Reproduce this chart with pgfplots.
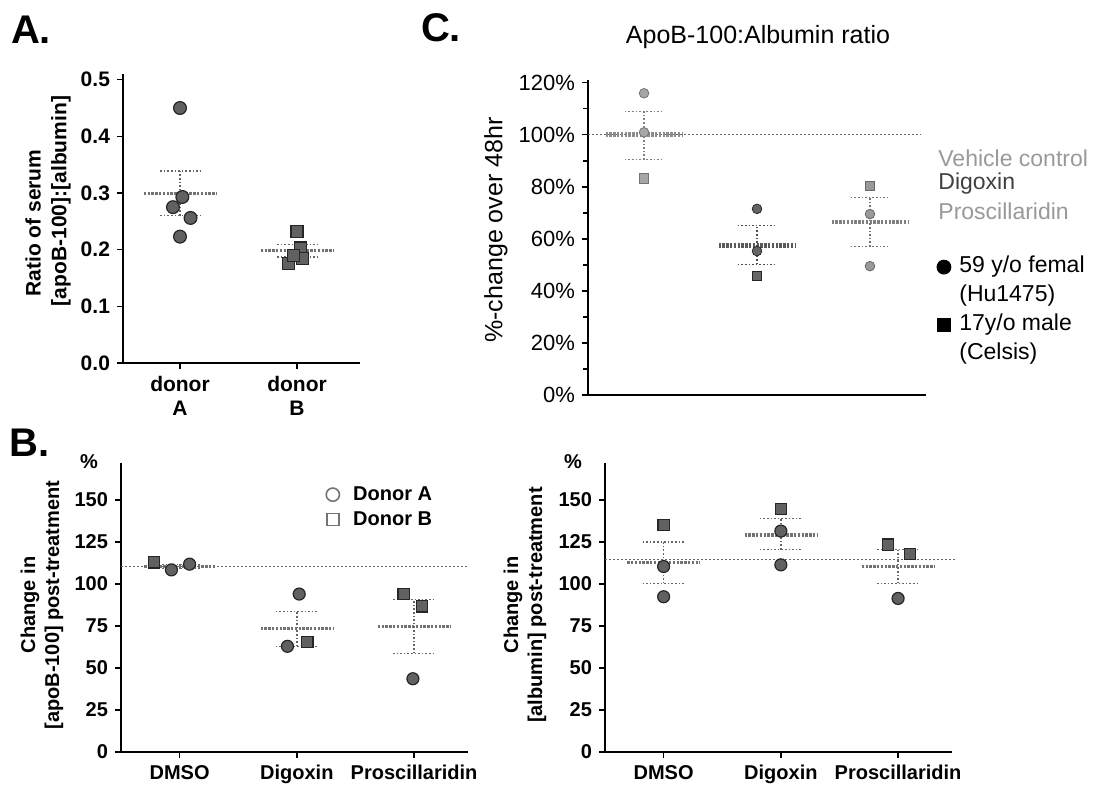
\documentclass[border=0pt]{standalone}
\usepackage{pgfplots}
\pgfplotsset{compat=1.18}
\usepackage{fontspec}
\setmainfont{Liberation Sans}

\pgfplotsset{
  prism/.style={
    scale only axis, clip=false, anchor=south west,
    axis lines=left,
    axis line style={-, line width=1.4pt, black},
    tick align=outside,
    major tick length=3pt,
    minor tick length=2.5pt,
    every tick/.style={black, line width=0.8pt},
    unbounded coords=jump,
  },
  meanline/.style={black!55, line width=1.6pt, dash pattern=on 1.2pt off 0.7pt, forget plot},
  refline/.style={black!60, line width=0.7pt, dash pattern=on 0.8pt off 1.2pt, forget plot},
  semline/.style={black!60, line width=0.7pt, dash pattern=on 0.8pt off 1pt, forget plot, mark=none},
  dk/.style={only marks, mark size=#1, mark options={draw=black!85, fill=black!62, line width=0.6pt}, forget plot},
  legimgC/.style={legend image code/.code={\draw[##1] plot coordinates {(0pt,0pt)}; \path (-3.5pt,0pt) (6.5pt,0pt);}},
  legimgB/.style={legend image code/.code={\draw[##1] plot coordinates {(0pt,0pt)}; \path (-3.5pt,0pt) (9pt,0pt);}},
}

\begin{document}
\begin{tikzpicture}
\useasboundingbox (0,0) rectangle (551pt,-398.5pt);

% ---------------- Panel A ----------------
\begin{axis}[prism, at={(61.5pt,-181.5pt)}, width=118.5pt, height=144.5pt,
  xmin=-0.487, xmax=1.538, ymin=0, ymax=0.51,
  ytick={0,0.1,0.2,0.3,0.4,0.5}, yticklabels={0.0,0.1,0.2,0.3,0.4,0.5},
  xtick={0,1}, xticklabels={{donor\\A},{donor\\B}},
  xticklabel style={align=center, font=\bfseries\fontsize{10.5}{12}\selectfont},
  yticklabel style={font=\bfseries\fontsize{10.5}{12}\selectfont}]
\addplot[meanline] coordinates {(-0.31,0.2994) (0.31,0.2994)};
\addplot[meanline] coordinates {(0.69,0.198) (1.31,0.198)};
\addplot[semline] coordinates {(0,0.26) (0,0.3388) (nan,nan) (-0.17,0.3388) (0.17,0.3388) (nan,nan) (-0.17,0.26) (0.17,0.26)
  (nan,nan) (1,0.187) (1,0.209) (nan,nan) (0.83,0.209) (1.17,0.209) (nan,nan) (0.83,0.187) (1.17,0.187)};
\addplot[dk=3.2pt, mark=*] coordinates {(0,0.45) (0.02,0.293) (-0.06,0.275) (0.09,0.256) (0,0.223)};
\addplot[dk=3pt, mark=square*] coordinates {(1,0.232) (1.03,0.203) (1.05,0.185) (0.93,0.175) (0.97,0.19)};
\end{axis}

% ---------------- Panel C ----------------
\begin{axis}[prism, at={(294pt,-197.5pt)}, width=169pt, height=157.5pt,
  xmin=-0.496, xmax=2.496, ymin=0, ymax=121,
  xtick=\empty,
  ytick={0,20,40,60,80,100,120},
  yticklabels={0\%,20\%,40\%,60\%,80\%,100\%,120\%},
  minor ytick={10,30,50,70,90,110},
  yticklabel style={font=\fontsize{11}{13}\selectfont},
  legend style={at={(rel axis cs:1.03,0.447)}, anchor=north west, draw=none, fill=none,
    font=\fontsize{11.5}{13}\selectfont, row sep=2pt, inner sep=0pt,
    nodes={inner sep=1pt, text height=8pt, text depth=2.5pt}},
  legend cell align=left]
\addplot[refline] coordinates {(-0.496,100) (2.45,100)};
% vehicle
\addplot[meanline, black!45, line width=2.2pt] coordinates {(-0.34,100) (0.34,100)};
\addplot[semline, black!50] coordinates {(0,90.4) (0,109) (nan,nan) (-0.17,109) (0.17,109) (nan,nan) (-0.17,90.4) (0.17,90.4)};
\addplot[only marks, mark=*, mark size=2.4pt, mark options={draw=black!55, fill=black!35}, forget plot] coordinates {(0,115.9) (0,100.9)};
\addplot[only marks, mark=square*, mark size=2.3pt, mark options={draw=black!55, fill=black!35}, forget plot] coordinates {(0,83.2)};
% digoxin
\addplot[meanline, black!65, line width=2.2pt] coordinates {(0.66,57.5) (1.34,57.5)};
\addplot[semline, black!70] coordinates {(1,50.2) (1,65.1) (nan,nan) (0.83,65.1) (1.17,65.1) (nan,nan) (0.83,50.2) (1.17,50.2)};
\addplot[only marks, mark=*, mark size=2.4pt, mark options={draw=black!85, fill=black!60}, forget plot] coordinates {(1,71.5) (1,55.3)};
\addplot[only marks, mark=square*, mark size=2.3pt, mark options={draw=black!85, fill=black!60}, forget plot] coordinates {(1,45.7)};
% proscillaridin
\addplot[meanline, black!50, line width=2.2pt] coordinates {(1.66,66.4) (2.34,66.4)};
\addplot[semline, black!55] coordinates {(2,57) (2,75.8) (nan,nan) (1.83,75.8) (2.17,75.8) (nan,nan) (1.83,57) (2.17,57)};
\addplot[only marks, mark=square*, mark size=2.3pt, mark options={draw=black!60, fill=black!40}, forget plot] coordinates {(2,80.2)};
\addplot[only marks, mark=*, mark size=2.4pt, mark options={draw=black!60, fill=black!40}, forget plot] coordinates {(2,69.5) (2,49.5)};
% legend
\addlegendimage{only marks, mark=*, mark size=3.5pt, black, legimgC}
\addlegendentry{59 y/o femal}
\addlegendimage{empty legend}
\addlegendentry{(Hu1475)}
\addlegendimage{only marks, mark=square*, mark size=3.3pt, black, legimgC}
\addlegendentry{17y/o male}
\addlegendimage{empty legend}
\addlegendentry{(Celsis)}
\end{axis}

% ---------------- Panel B left ----------------
\begin{axis}[prism, at={(60.5pt,-376pt)}, width=173.5pt, height=144.5pt,
  xmin=-0.5, xmax=2.46, ymin=0, ymax=172,
  ytick={0,25,50,75,100,125,150}, yticklabels={0,25,50,75,100,125,150},
  xtick={0,1,2}, xticklabels={DMSO,Digoxin,Proscillaridin},
  ticklabel style={font=\bfseries\fontsize{10}{12}\selectfont},
  legend style={at={(rel axis cs:0.588,0.93)}, anchor=north west, draw=none, fill=none,
    font=\bfseries\fontsize{10}{12}\selectfont, row sep=1.5pt, inner sep=0pt,
    nodes={inner sep=1pt, text height=7.5pt, text depth=1.5pt}},
  legend cell align=left]
\addplot[refline] coordinates {(-0.5,110.4) (2.46,110.4)};
\addplot[meanline] coordinates {(-0.3,110.4) (0.3,110.4)};
\addplot[meanline] coordinates {(0.69,73.3) (1.31,73.3)};
\addplot[meanline] coordinates {(1.69,74.7) (2.31,74.7)};
\addplot[semline] coordinates {(0,109.1) (0,111.7) (nan,nan) (-0.18,111.7) (0.18,111.7) (nan,nan) (-0.18,109.1) (0.18,109.1)
  (nan,nan) (1,62.9) (1,83.7) (nan,nan) (0.82,83.7) (1.18,83.7) (nan,nan) (0.82,62.9) (1.18,62.9)
  (nan,nan) (2,58.8) (2,90.6) (nan,nan) (1.82,90.6) (2.18,90.6) (nan,nan) (1.82,58.8) (2.18,58.8)};
\addplot[dk=3pt, mark=*] coordinates {(-0.07,108.4) (0.085,111.8) (1.02,94) (0.92,62.9) (1.99,43.6)};
\addplot[dk=2.8pt, mark=square*] coordinates {(-0.22,112.9) (1.09,65.3) (1.91,94.2) (2.065,86.7)};
\addlegendimage{only marks, mark=o, mark size=3.3pt, mark options={black!55, line width=0.8pt}, legimgB}
\addlegendentry{Donor A}
\addlegendimage{only marks, mark=square, mark size=3pt, mark options={black!55, line width=0.8pt}, legimgB}
\addlegendentry{Donor B}
\end{axis}

% ---------------- Panel B right ----------------
\begin{axis}[prism, at={(302.5pt,-376pt)}, width=173.5pt, height=144.5pt,
  xmin=-0.5, xmax=2.46, ymin=0, ymax=172,
  ytick={0,25,50,75,100,125,150}, yticklabels={0,25,50,75,100,125,150},
  xtick={0,1,2}, xticklabels={DMSO,Digoxin,Proscillaridin},
  ticklabel style={font=\bfseries\fontsize{10}{12}\selectfont}]
\addplot[refline] coordinates {(-0.5,114.5) (2.5,114.5)};
\addplot[meanline] coordinates {(-0.31,112.7) (0.31,112.7)};
\addplot[meanline] coordinates {(0.69,129.2) (1.31,129.2)};
\addplot[meanline] coordinates {(1.69,110.4) (2.31,110.4)};
\addplot[semline] coordinates {(0,100.3) (0,125.1) (nan,nan) (-0.18,125.1) (0.18,125.1) (nan,nan) (-0.18,100.3) (0.18,100.3)
  (nan,nan) (1,120.5) (1,139) (nan,nan) (0.82,139) (1.18,139) (nan,nan) (0.82,120.5) (1.18,120.5)
  (nan,nan) (2,100.4) (2,120.4) (nan,nan) (1.82,120.4) (2.18,120.4) (nan,nan) (1.82,100.4) (2.18,100.4)};
\addplot[dk=3pt, mark=*] coordinates {(0,110.4) (0,92.4) (1,131.5) (1,111.4) (2,91.4)};
\addplot[dk=2.8pt, mark=square*] coordinates {(0,135.1) (1,144.6) (1.915,123.5) (2.1,117.9)};
\end{axis}

% ---------------- texts ----------------
\begin{scope}[x=0.5pt, y=-0.5pt]
\node[font=\bfseries\fontsize{20}{22}\selectfont] at (31,30) {A.};
\node[font=\bfseries\fontsize{20}{22}\selectfont] at (30,443) {B.};
\node[font=\bfseries\fontsize{20}{22}\selectfont] at (441,28) {C.};
\node[font=\bfseries\fontsize{10.5}{12}\selectfont, rotate=90] at (33,223) {Ratio of serum};
\node[font=\bfseries\fontsize{10.5}{12}\selectfont, rotate=90] at (61,201) {[apoB-100]:[albumin]};
\node[font=\bfseries\fontsize{10}{12}\selectfont, rotate=90, align=center] at (42,605) {Change in\\{}[apoB-100] post-treatment};
\node[font=\bfseries\fontsize{10}{12}\selectfont, rotate=90, align=center] at (525,605) {Change in\\{}[albumin] post-treatment};
\node[font=\bfseries\fontsize{10}{12}\selectfont] at (89,462) {\%};
\node[font=\bfseries\fontsize{10}{12}\selectfont] at (573,462) {\%};
\node[font=\fontsize{12.5}{14}\selectfont] at (758,37) {ApoB-100:Albumin ratio};
\node[font=\fontsize{12.5}{14}\selectfont, rotate=90] at (496,230) {\%-change over 48hr};
\node[font=\fontsize{11.5}{13}\selectfont, anchor=west, text=black!40, inner sep=0pt] at (938,158) {Vehicle control};
\node[font=\fontsize{11.5}{13}\selectfont, anchor=west, text=black!75, inner sep=0pt] at (938,184) {Digoxin};
\node[font=\fontsize{11.5}{13}\selectfont, anchor=west, text=black!40, inner sep=0pt] at (938,211) {Proscillaridin};
\end{scope}
\end{tikzpicture}
\end{document}
